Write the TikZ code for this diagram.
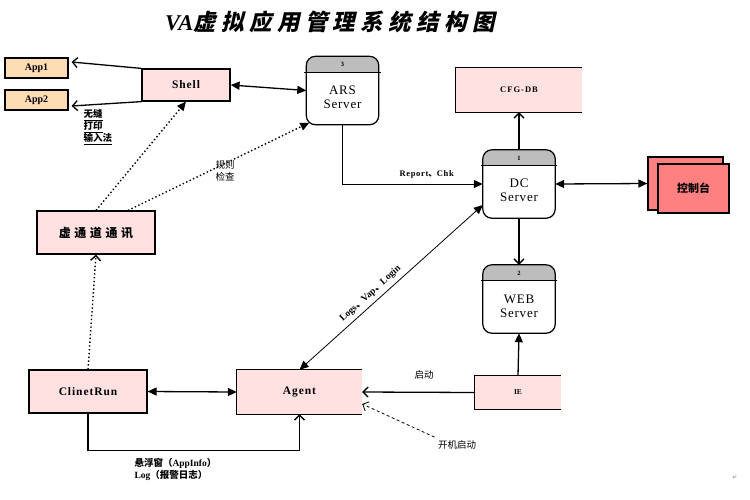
\documentclass[tikz,border=0pt]{standalone}
\usepackage{fontspec}
\usepackage{tikz}
\usetikzlibrary{arrows.meta,calc}
\setmainfont{Liberation Serif}
\newfontfamily\cjk{Noto Sans CJK SC}
\newfontfamily\cjkslant{Noto Sans CJK SC}[FakeSlant=0.22,LetterSpace=24]
\newfontfamily\symb{DejaVu Sans}
\definecolor{pinkbg}{HTML}{FFE1E1}
\definecolor{appbg}{HTML}{FDDDB4}
\definecolor{ctrlbg}{HTML}{FF8080}
\definecolor{hdrgray}{HTML}{BDBDBD}

\begin{document}
\begin{tikzpicture}[x = 1pt, y = -1pt,
	box/.style = {draw, line width = 1.2pt, fill = pinkbg, inner sep = 0pt},
	openbox/.style = {fill = pinkbg, inner sep = 0pt},
	appbox/.style = {box, fill = appbg, minimum width = 63pt, minimum height = 20pt, font = \bfseries\fontsize{10}{12}\selectfont},
	server/.style = {minimum width = 72pt, minimum height = 68pt, inner sep = 0pt},
	srvtext/.style = {align = center, font = \fontsize{13}{14}\selectfont\addfontfeatures{LetterSpace = 6}},
	boldlbl/.style = {font = \bfseries\fontsize{11.5}{13}\selectfont\addfontfeatures{LetterSpace = 8}},
	cjklbl/.style = {font = \cjk\bfseries\fontsize{12}{14}\selectfont\addfontfeatures{LetterSpace = 30}},
	note/.style = {font = \cjk\fontsize{9.5}{11.5}\selectfont},
	fillend/.style = {-{Triangle[length = 9pt, width = 8pt]}},
	fillboth/.style = {{Triangle[length = 9pt, width = 8pt]}-{Triangle[length = 9pt, width = 8pt]}},
	openend/.style = {-{Straight Barb[length = 5pt, width = 10pt]}},
	thickln/.style = {line width = 1.3pt},
	thinln/.style = {line width = 0.8pt},
	dotln/.style = {line width = 1.4pt, dash pattern = on 1.4pt off 2.4pt},
	dashln/.style = {line width = 0.8pt, dash pattern = on 3pt off 2.5pt}]

	\useasboundingbox (0,0) rectangle (750,499);

	\node[font = \bfseries\itshape\fontsize{22.5}{25}\selectfont] (title) at (330,22) {VA{\cjkslant\bfseries\upshape 虚拟应用管理系统结构图}};

	\node[appbox] (app1) at (36.5,68) {App1};
	\node[appbox] (app2) at (36.5,100) {App2};
	\node[box, boldlbl, minimum width = 88pt, minimum height = 32pt] (shell) at (186,85) {Shell};

	\node[server, label = {[srvtext, yshift = -7pt]center:ARS\\Server}] (ars) at (342.5,90.5) {};
	\node[server, label = {[srvtext, yshift = -6pt]center:DC\\Server}] (dc) at (519,184) {};
	\node[server, label = {[srvtext, yshift = -7pt]center:WEB\\Server}] (web) at (519,299) {};

	\node[openbox, minimum width = 126pt, minimum height = 44pt, font = \bfseries\fontsize{8.5}{10}\selectfont\addfontfeatures{LetterSpace = 12}] (cfg) at (519,90) {CFG-DB};
	\node[box, fill = ctrlbg, minimum width = 75pt, minimum height = 53pt] (ctrlb) at (685.5,183.5) {};
	\node[box, fill = ctrlbg, minimum width = 71pt, minimum height = 49pt, font = \cjk\bfseries\fontsize{11}{13}\selectfont] (ctrl) at (693.5,188.5) {控制台};

	\node[box, cjklbl, minimum width = 118pt, minimum height = 43pt] (vtc) at (96,232.5) {虚通道通讯};
	\node[box, boldlbl, minimum width = 118pt, minimum height = 43pt] (clinet) at (88,391.5) {ClinetRun};
	\node[openbox, boldlbl, minimum width = 125pt, minimum height = 44pt] (agent) at (299.5,392) {Agent};
	\node[openbox, minimum width = 86pt, minimum height = 33pt, font = \bfseries\fontsize{7.5}{9}\selectfont] (ie) at (518,392.5) {IE};

	\foreach \b in {cfg,agent,ie}
		\draw[line width = 1.2pt] (\b.north east) -- (\b.north west) -- (\b.south west) -- (\b.south east);

	\foreach \s/\n in {ars/3,dc/1,web/2}{
		\begin{scope}
			\clip[rounded corners = 9pt] (\s.north west) rectangle (\s.south east);
			\fill[hdrgray] (\s.north west) rectangle ([yshift = -16pt]\s.north east);
		\end{scope}
		\draw[line width = 1.2pt] ([xshift = -2pt, yshift = -16pt]\s.north west) -- ([xshift = 2pt, yshift = -16pt]\s.north east);
		\node[font = \bfseries\fontsize{6.5}{7}\selectfont] at ([yshift = -8.5pt]\s.north) {\n};
		\draw[line width = 1.2pt, rounded corners = 9pt] (\s.north west) rectangle (\s.south east);
	}

	\node[note, font = \cjk\bfseries\fontsize{9.5}{11}\selectfont, align = left, anchor = north west] (seam) at (80,106) {\underline{无缝}\\\underline{打印}\\\underline{输入法}};
	\node[note, align = center] (rule) at (225,171) {规则\\检查};
	\node[note] (boot) at (457,445) {开机启动};
	\node[font = \bfseries\fontsize{9.5}{11.5}\selectfont, align = left, anchor = north west] (float) at (131,455) {{\cjk 悬浮窗（}AppInfo{\cjk ）}\\Log{\cjk （报警日志）}};
	\node[font = \symb\fontsize{6}{7}\selectfont, text = gray] (pm) at (735,478) {↵};

	\draw[thickln, openend] (shell.north west) -- ([xshift = 3pt, yshift = 6pt]app1.east);
	\draw[thickln, openend] (shell.south west) -- ([xshift = 3pt, yshift = -6pt]app2.east);
	\draw[thickln, fillboth] (shell.east) -- (ars.west);
	\draw[thinln, fillend] (ars.south) |- (dc.west) node[pos = 0.8, above = 2pt, font = \bfseries\fontsize{8.5}{10}\selectfont\addfontfeatures{LetterSpace = 8}] {Report{\cjk 、}Chk};
	\draw[thickln, openend] (dc.north) -- (cfg.south);
	\draw[thickln, fillboth] (dc.east) -- (ctrlb.west);
	\draw[thickln, openend] (dc.south) -- (web.north);
	\draw[thickln, fillend] (ie.north) -- (web.south);
	\draw[thickln, openend] (ie.west) -- (agent.east) node[pos = 0.45, above = 9pt, note] {启动};
	\draw[dashln, openend] (boot.north west) -- ([yshift = -12pt]agent.east);
	\draw[thinln, fillboth] (agent.north) -- ([yshift = -21pt]dc.west) node[pos = 0.42, sloped, above = 1pt, font = \bfseries\fontsize{9.5}{11}\selectfont] {Logs{\cjk 、}Vap{\cjk 、}Login};
	\draw[thickln, fillboth] (clinet.east) -- (agent.west);
	\draw[thickln, openend] (clinet.south) -- ++(0,37) -| (agent.south);
	\draw[dotln, openend] (clinet.north) -- (vtc.south);
	\draw[dotln, fillend] (vtc.north) -- (shell.south);
	\draw[dotln, fillend] ([xshift = 32pt]vtc.north) -- ([xshift = 3pt, yshift = 2pt]ars.south west);

\end{tikzpicture}
\end{document}
